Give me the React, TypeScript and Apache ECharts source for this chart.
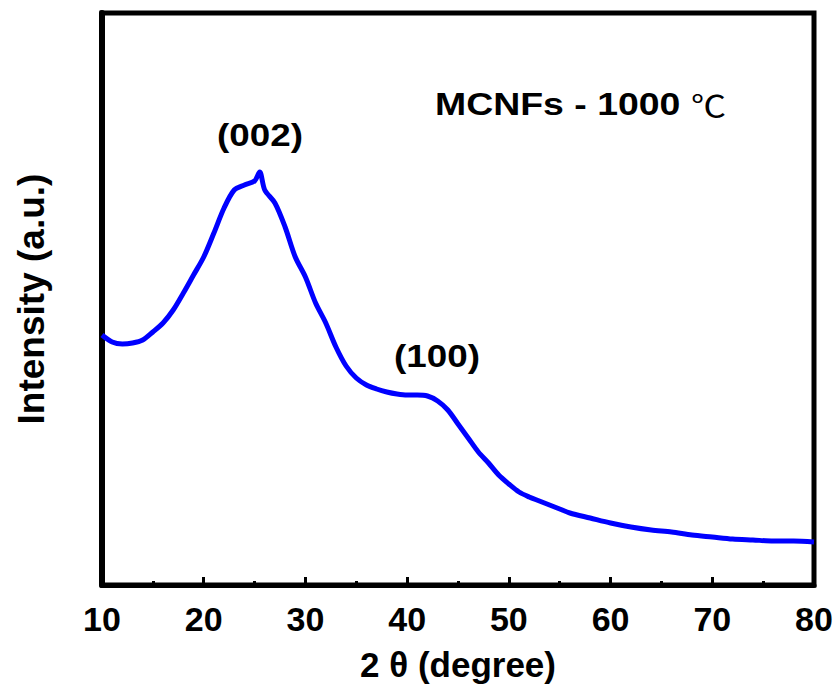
import React, { useEffect, useRef } from "react";
import * as echarts from "echarts";

const angles = [10, 11, 12, 13, 14, 15, 16, 17, 18, 19, 20, 21, 22, 23, 24, 25, 25.5, 26, 27, 28, 29, 30, 31, 32, 33, 34, 35, 36, 37, 38, 39, 40, 41, 42, 43, 44, 45, 46, 47, 48, 49, 50, 51, 52, 53, 54, 55, 56, 58, 60, 62, 64, 66, 68, 70, 72, 74, 76, 78, 80];
const intensity = [250, 243, 241, 242, 245, 253, 262, 275, 292, 310, 328, 352, 377, 395, 400, 404, 413, 395, 382, 358, 328, 308, 282, 262, 238, 219, 207, 200, 196, 193, 191, 190, 190, 189, 184, 175, 161, 147, 133, 122, 110, 101, 93, 88, 84, 80, 76, 72, 67, 62, 58, 55, 53, 50, 48, 46, 45, 44, 44, 43];
const xTicks = [10, 20, 30, 40, 50, 60, 70, 80];
const peakLabels = ["(002)", "(100)"];
const sampleLabel = "MCNFs - 1000 ";
const unitLabel = "℃";

export default function App() {
  const ref = useRef<HTMLDivElement>(null);
  useEffect(() => {
    if (!ref.current) return;
    const chart = echarts.init(ref.current, null, { renderer: "svg" });
    const font = "'Liberation Sans', Arial, sans-serif";
    chart.setOption({
      animation: false,
      backgroundColor: "#ffffff",
      grid: {
        left: 102,
        right: 26,
        top: 13,
        bottom: 102,
        outerBoundsMode: "none",
        containLabel: false,
        show: true,
        borderColor: "#000",
        borderWidth: 5,
        backgroundColor: "transparent",
      },
      xAxis: {
        type: "value",
        min: xTicks[0],
        max: xTicks[xTicks.length - 1],
        interval: 10,
        name: "2 θ (degree)",
        nameLocation: "middle",
        nameGap: 62,
        nameTextStyle: { fontFamily: font, fontWeight: "bold", fontSize: 35, color: "#000" },
        axisLine: { show: true, lineStyle: { color: "#000", width: 5 } },
        axisTick: { show: true, inside: true, length: 8, lineStyle: { color: "#000", width: 3 } },
        minorTick: { show: true, splitNumber: 2, length: 4, lineStyle: { color: "#000", width: 3 } },
        axisLabel: { fontFamily: font, fontWeight: "bold", fontSize: 34, color: "#000", margin: 17 },
        splitLine: { show: false },
      },
      yAxis: {
        type: "value",
        min: 0,
        max: 572,
        name: "Intensity (a.u.)",
        nameLocation: "middle",
        nameGap: 52,
        nameRotate: 90,
        nameTextStyle: { fontFamily: font, fontWeight: "bold", fontSize: 37, color: "#000" },
        axisLine: { show: true, lineStyle: { color: "#000", width: 6 } },
        axisTick: { show: false },
        axisLabel: { show: false },
        splitLine: { show: false },
      },
      series: [
        {
          type: "line",
          data: angles.map((a, i) => [a, intensity[i]]),
          showSymbol: false,
          symbol: "none",
          smooth: 0.3,
          lineStyle: { color: "#0000ff", width: 5 },
        },
      ],
      graphic: [
        {
          type: "text",
          x: 260,
          y: 135,
          scaleX: 1.15,
          style: { text: peakLabels[0], fontFamily: font, fontWeight: "bold", fontSize: 32, fill: "#000", align: "center", verticalAlign: "middle" },
        },
        {
          type: "text",
          x: 437,
          y: 356,
          scaleX: 1.15,
          style: { text: peakLabels[1], fontFamily: font, fontWeight: "bold", fontSize: 32, fill: "#000", align: "center", verticalAlign: "middle" },
        },
        {
          type: "text",
          x: 435,
          y: 104,
          scaleX: 1.17,
          style: {
            text: "{a|" + sampleLabel + "}{b|" + unitLabel + "}",
            align: "left",
            verticalAlign: "middle",
            rich: {
              a: { fontFamily: font, fontWeight: "bold", fontSize: 32, fill: "#000", color: "#000" },
              b: { fontFamily: "'Noto Sans CJK SC', serif", fontWeight: "normal", fontSize: 30, fill: "#000", color: "#000" },
            },
          },
        },
      ],
    });
    return () => chart.dispose();
  }, []);
  return <div ref={ref} style={{ position: "fixed", left: 0, top: 0, width: 840, height: 687 }} />;
}
